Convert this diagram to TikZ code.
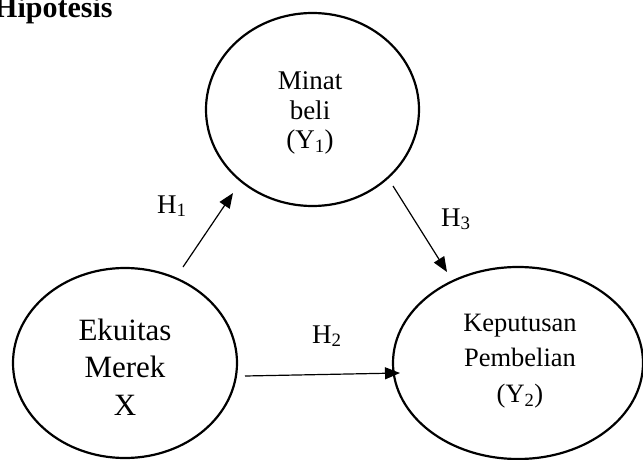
\documentclass[tikz,border=0pt]{standalone}
\usepackage{fontspec}
\setmainfont{Liberation Serif}
\usetikzlibrary{shapes.geometric,arrows.meta}
\begin{document}
\begin{tikzpicture}[x=1pt,y=-1pt,
  ell/.style={draw,ellipse,line width=2.2pt,inner sep=0pt},
  conn/.style={line width=1.2pt,-{Triangle[length=15pt,width=12pt]}},
  txt/.style={inner sep=0pt,align=center},
  hlbl/.style={inner sep=0pt,anchor=base west,font=\fontsize{27}{30}\selectfont}]
\useasboundingbox (0,0) rectangle (643,460);
% title
\node[inner sep=0pt,anchor=base west,font=\fontsize{30}{34}\selectfont\bfseries] (title) at (-6,18) {Hipotesis};
% ellipses
\node[ell,minimum width=213pt,minimum height=193pt] (y1) at (312.5,109.5) {};
\node[ell,minimum width=224pt,minimum height=190pt] (x) at (125,363) {};
\node[ell,minimum width=250pt,minimum height=192pt] (y2) at (518,363) {};
% texts
\node[txt,font=\fontsize{27}{29.5}\selectfont] (y1t) at (310,113) {Minat\\beli\\(Y\textsubscript{1})};
\node[txt,font=\fontsize{31}{37.5}\selectfont] (xt) at (125,367) {Ekuitas\\Merek\\X};
\node[txt,font=\fontsize{26.5}{35.5}\selectfont] (y2t) at (520,361) {Keputusan\\Pembelian\\(Y\textsubscript{2})};
% connectors
\coordinate (h1s) at (183,267);
\coordinate (h1e) at (233,193);
\coordinate (h2s) at (245,376);
\coordinate (h2e) at (400,373);
\coordinate (h3s) at (393,186);
\coordinate (h3e) at (447,272);
\draw[conn] (h1s) -- (h1e);
\draw[conn] (h2s) -- (h2e);
\draw[conn] (h3s) -- (h3e);
% labels
\node[hlbl] (h1) at (157,213) {H\textsubscript{1}};
\node[hlbl] (h2) at (312,343) {H\textsubscript{2}};
\node[hlbl] (h3) at (441,226) {H\textsubscript{3}};
\end{tikzpicture}
\end{document}
